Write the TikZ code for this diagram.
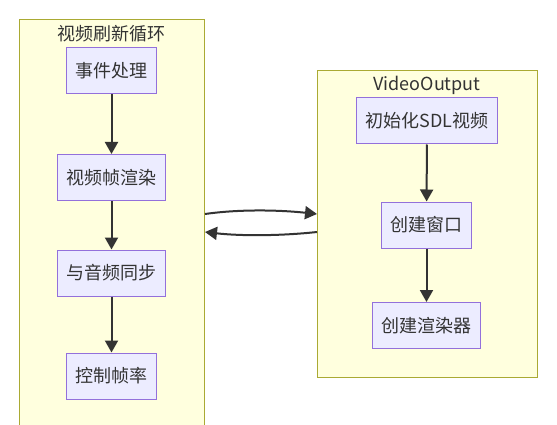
\documentclass[tikz,border=0pt]{standalone}
\usepackage{fontspec}
\setmainfont{Noto Sans CJK SC}
\usetikzlibrary{arrows.meta}
\definecolor{clusterfill}{HTML}{FFFFDE}
\definecolor{clusterline}{HTML}{AAAA33}
\definecolor{boxfill}{HTML}{ECECFF}
\definecolor{boxline}{HTML}{9370DB}
\definecolor{ink}{HTML}{333333}
\tikzset{
    cluster/.style={draw=clusterline, fill=clusterfill, line width=1pt},
    title/.style={text=ink, font=\fontsize{18}{18}\selectfont},
    stepbox/.style={draw=boxline, fill=boxfill, line width=1pt, text=ink,
        minimum height=46pt, inner xsep=9pt, font=\fontsize{18}{18}\selectfont},
    flow/.style={->, draw=ink, line width=2pt},
}
\begin{document}
\begin{tikzpicture}[x=1pt, y=-1pt, >={Triangle[length=12pt,width=13pt]}]
    \useasboundingbox (0,0) rectangle (557,425);

    % left cluster: refresh loop
    \begin{scope}
        \draw[cluster] (19,20) rectangle (204,432);
        \node[title] (looptitle) at (111.5,34) {视频刷新循环};

        \node[stepbox] (events) at (111.5,70.5) {事件处理};
        \node[stepbox] (render) at (111.5,177.5) {视频帧渲染};
        \node[stepbox] (sync)   at (111.5,273) {与音频同步};
        \node[stepbox] (rate)   at (111.5,376) {控制帧率};

        \draw[flow] (events) -- (render);
        \draw[flow] (render) -- (sync);
        \draw[flow] (sync) -- (rate);
    \end{scope}

    % right cluster: VideoOutput
    \begin{scope}
        \draw[cluster] (317,71) rectangle (537,377);
        \node[title] (outtitle) at (427,85) {VideoOutput};

        \node[stepbox] (initsdl)  at (427,121) {初始化SDL视频};
        \node[stepbox] (window)   at (426.5,225) {创建窗口};
        \node[stepbox] (renderer) at (426.5,325.5) {创建渲染器};

        \draw[flow] (initsdl) -- (window);
        \draw[flow] (window) -- (renderer);
    \end{scope}

    % links between the two clusters
    \coordinate (loopout) at (205,214);
    \coordinate (outin)   at (317,214);
    \coordinate (outback) at (317,232);
    \coordinate (loopin)  at (205,232);
    \draw[flow] (loopout) .. controls (240,209) and (280,210) .. (outin);
    \draw[flow] (outback) .. controls (280,236) and (240,236) .. (loopin);
\end{tikzpicture}
\end{document}
